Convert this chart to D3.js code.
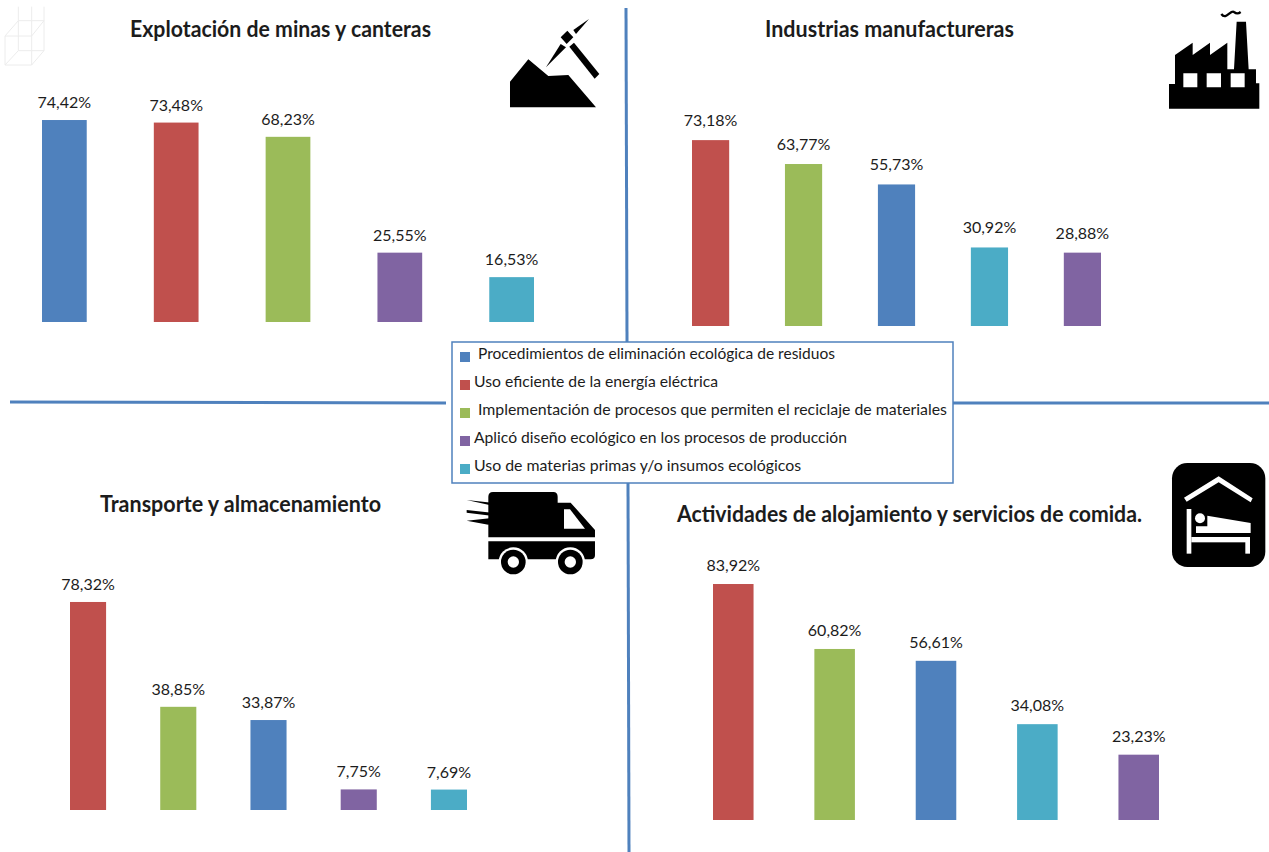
<!DOCTYPE html>
<html>
<head>
<meta charset="utf-8">
<script src="https://cdn.jsdelivr.net/npm/d3@7"></script>
<style>
  html, body { margin: 0; padding: 0; background: #fff; }
  svg { display: block; }
  text { font-family: Lato, "Open Sans", sans-serif; fill: #1c1c1c; }
</style>
</head>
<body>
<svg id="main-svg" width="1269" height="852"></svg>
<script>
// legend categories
const legendLabels = [
    "Procedimientos de eliminación ecológica de residuos",
    "Uso eficiente de la energía eléctrica",
    "Implementación de procesos que permiten el reciclaje de materiales",
    "Aplicó diseño ecológico en los procesos de producción",
    "Uso de materias primas y/o insumos ecológicos"
];
const categoryIds = ["residuos", "energia", "reciclaje", "diseno", "insumos"];
const categoryColors = ["#4f81bd", "#c0504d", "#9bbb59", "#8064a2", "#4bacc6"];

// data per sector, already sorted the way the chart shows them
const miningTitle = "Explotación de minas y canteras";
const miningCats = ["residuos", "energia", "reciclaje", "diseno", "insumos"];
const miningValues = [74.42, 73.48, 68.23, 25.55, 16.53];

const industryTitle = "Industrias manufactureras";
const industryCats = ["energia", "reciclaje", "residuos", "insumos", "diseno"];
const industryValues = [73.18, 63.77, 55.73, 30.92, 28.88];

const transportTitle = "Transporte y almacenamiento";
const transportCats = ["energia", "reciclaje", "residuos", "diseno", "insumos"];
const transportValues = [78.32, 38.85, 33.87, 7.75, 7.69];

const lodgingTitle = "Actividades de alojamiento y servicios de comida.";
const lodgingCats = ["energia", "reciclaje", "residuos", "insumos", "diseno"];
const lodgingValues = [83.92, 60.82, 56.61, 34.08, 23.23];

const svg = d3.select("#main-svg");
const color = d3.scaleOrdinal().domain(categoryIds).range(categoryColors);
const fmt = v => v.toFixed(2).replace(".", ",") + "%";

// faint wire cube in the top left corner
const cube = svg.append("g")
    .attr("transform", "scale(0.3333)")
    .attr("fill", "none")
    .attr("stroke", "#ececec")
    .attr("stroke-width", 3);
cube.append("path").attr("d", "M15,108 L55,62 M15,108 L15,195 L95,195 M15,195 L55,152 L132,152 L95,195 M132,20 L132,152 M55,20 L55,152 M95,20 L95,195 M15,108 L95,108 L132,62 M55,62 L132,62");

// separators
const lineColor = "#4f81bd";
const lines = svg.append("g").attr("stroke", lineColor).attr("stroke-width", 3).attr("fill", "none");
lines.append("line").attr("x1", 626).attr("y1", 8).attr("x2", 627).attr("y2", 342);
lines.append("line").attr("x1", 628).attr("y1", 483).attr("x2", 629).attr("y2", 852);
lines.append("line").attr("x1", 10).attr("y1", 402).attr("x2", 446).attr("y2", 403);
lines.append("line").attr("x1", 950).attr("y1", 403).attr("x2", 1269).attr("y2", 403);

// one panel of the figure
const panels = [
    { title: miningTitle, cats: miningCats, values: miningValues,
      x0: 42, x1: 534, base: 322, pxPerUnit: 2.714, gap: 12,
      titleX: 130, titleY: 37, titleW: 301 },
    { title: industryTitle, cats: industryCats, values: industryValues,
      x0: 692, x1: 1101, base: 326, pxPerUnit: 2.54, gap: 14,
      titleX: 765, titleY: 37, titleW: 249 },
    { title: transportTitle, cats: transportCats, values: transportValues,
      x0: 70, x1: 467, base: 810, pxPerUnit: 2.656, gap: 12,
      titleX: 100, titleY: 512, titleW: 281 },
    { title: lodgingTitle, cats: lodgingCats, values: lodgingValues,
      x0: 713, x1: 1159, base: 820, pxPerUnit: 2.812, gap: 13,
      titleX: 677, titleY: 522, titleW: 465 }
];

panels.forEach(p => {
    const g = svg.append("g");
    const rows = p.cats.map((c, i) => ({ cat: c, value: p.values[i] }));

    const x = d3.scaleBand()
        .domain(p.cats)
        .range([p.x0, p.x1])
        .paddingInner(0.6)
        .paddingOuter(0);
    const y = d3.scaleLinear()
        .domain([0, 100])
        .range([p.base, p.base - 100 * p.pxPerUnit]);

    g.append("text")
        .attr("x", p.titleX)
        .attr("y", p.titleY)
        .attr("font-size", "22px")
        .attr("font-weight", "bold")
        .attr("textLength", p.titleW)
        .attr("lengthAdjust", "spacingAndGlyphs")
        .text(p.title);

    g.selectAll("rect")
        .data(rows)
        .enter().append("rect")
        .attr("x", d => x(d.cat))
        .attr("y", d => y(d.value))
        .attr("width", x.bandwidth())
        .attr("height", d => p.base - y(d.value))
        .attr("fill", d => color(d.cat));

    g.selectAll(".val")
        .data(rows)
        .enter().append("text")
        .attr("class", "val")
        .attr("x", d => x(d.cat) + x.bandwidth() / 2)
        .attr("y", d => y(d.value) - p.gap)
        .attr("text-anchor", "middle")
        .attr("font-size", "16px")
        .text(d => fmt(d.value));
});

// legend box
svg.append("rect")
    .attr("x", 452).attr("y", 342)
    .attr("width", 501).attr("height", 141)
    .attr("fill", "#fff")
    .attr("stroke", lineColor)
    .attr("stroke-width", 1.5);

const legendTextX = [478, 474, 478, 474, 474];
const legendTextW = [357, 244, 469, 373, 327];
const legendRow = d3.scalePoint().domain(categoryIds).range([359, 471]);
const legend = svg.append("g")
    .selectAll("g")
    .data(categoryIds)
    .enter().append("g");
legend.append("rect")
    .attr("x", 460)
    .attr("y", d => legendRow(d) - 7)
    .attr("width", 10)
    .attr("height", 10)
    .attr("fill", d => color(d));
legend.append("text")
    .attr("x", (d, i) => legendTextX[i])
    .attr("y", d => legendRow(d))
    .attr("font-size", "15px")
    .attr("textLength", (d, i) => legendTextW[i])
    .attr("lengthAdjust", "spacingAndGlyphs")
    .text((d, i) => legendLabels[i]);

// icons, traced at 3x so they sit in their own little coordinate box
function icon(tx, ty) {
    return svg.append("g").attr("transform", `translate(${tx},${ty}) scale(0.3333)`);
}

const mine = icon(490, 0);
mine.append("path").attr("d", "M60,245 L115,178 L175,228 L235,225 L318,322 L60,322 Z");
mine.append("path").attr("d", "M232,92 L250,112 L230,132 L212,112 Z");
mine.append("path").attr("d", "M250,90 L297,57 L258,102 Z");
mine.append("path").attr("d", "M212,132 L168,202 L228,142 Z");
mine.append("path").attr("d", "M252,128 L328,222 L314,236 L238,140 Z");

const factory = icon(1150, 0);
factory.append("path")
    .attr("fill-rule", "evenodd")
    .attr("d", "M57,326 L57,252 L75,252 L75,165 L128,128 L128,165 L180,128 L180,165 L232,128 L232,208 L252,208 L260,65 L288,65 L296,208 L318,208 L318,250 L328,250 L328,326 Z M100,220 L100,262 L142,262 L142,220 Z M170,220 L170,262 L213,262 L213,220 Z M242,220 L242,262 L284,262 L284,220 Z");
factory.append("path")
    .attr("fill", "none").attr("stroke", "#000").attr("stroke-width", 7)
    .attr("d", "M214,42 C228,62 242,28 252,36 C260,42 264,42 272,36");

const truck = icon(460, 480);
truck.append("path").attr("d", "M85,50 Q85,36 99,36 L280,36 Q293,36 293,50 L293,68 L332,68 L405,150 L405,172 L85,172 Z");
truck.append("path").attr("d", "M85,184 L405,184 L405,225 Q405,238 392,238 L85,238 Q85,238 85,225 Z");
truck.append("path").attr("d", "M20,60 L130,72 L130,82 L85,74 Z M20,90 L130,102 L130,112 L20,98 Z M20,122 L130,110 L85,134 Z");
truck.append("path").attr("fill", "#fff").attr("d", "M312,88 L330,88 L375,146 L312,146 Z");
[160, 331].forEach(cx => {
    truck.append("circle").attr("cx", cx).attr("cy", 246).attr("r", 44).attr("fill", "#fff");
    truck.append("circle").attr("cx", cx).attr("cy", 246).attr("r", 37).attr("fill", "#000");
    truck.append("circle").attr("cx", cx).attr("cy", 246).attr("r", 17).attr("fill", "#fff");
});

const bed = icon(1160, 455);
bed.append("rect").attr("x", 36).attr("y", 24).attr("width", 280).attr("height", 312).attr("rx", 46);
const bedLines = bed.append("g").attr("fill", "#fff");
bedLines.append("path").attr("d", "M72,128 L176,64 L278,130 L272,142 L176,82 L80,140 Z");
bedLines.append("rect").attr("x", 80).attr("y", 162).attr("width", 14).attr("height", 134);
bedLines.append("rect").attr("x", 94).attr("y", 246).attr("width", 176).attr("height", 16);
bedLines.append("rect").attr("x", 256).attr("y", 246).attr("width", 14).attr("height", 50);
bedLines.append("circle").attr("cx", 120).attr("cy", 190).attr("r", 15);
bedLines.append("path").attr("d", "M108,214 L142,214 L142,182 L272,204 L272,234 L108,234 Z");
</script>
</body>
</html>
